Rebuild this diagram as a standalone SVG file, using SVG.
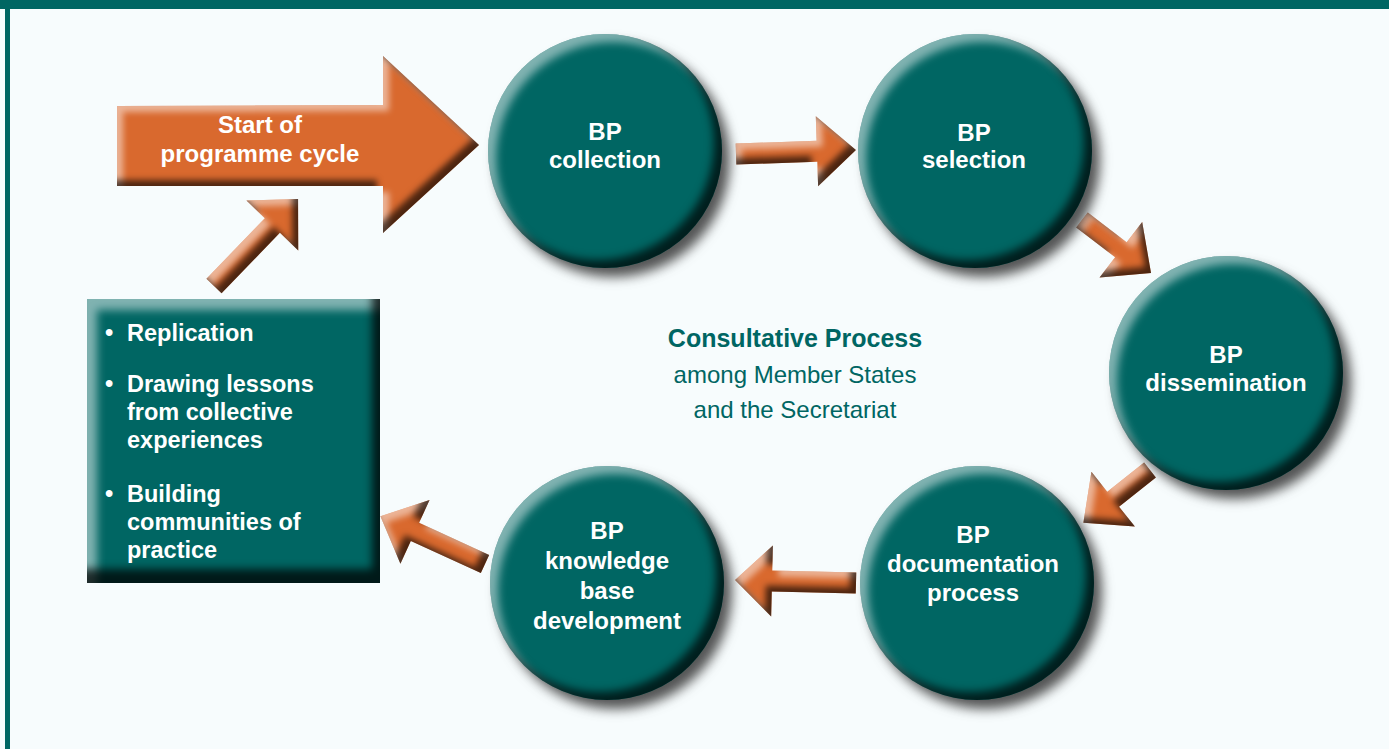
<svg xmlns="http://www.w3.org/2000/svg" width="1389" height="749" viewBox="0 0 1389 749">
<style>
.bg{fill:#f7fcfd}
.frame{fill:#006663}
.disc{fill:#006663}
.arrow{fill:#d9692e}
.lbl{font-family:"Liberation Sans",Arial,sans-serif;font-weight:bold;font-size:24px;fill:#ffffff;text-anchor:middle}
.lst{font-family:"Liberation Sans",Arial,sans-serif;font-weight:bold;font-size:23.5px;fill:#ffffff}
.ctitle{font-family:"Liberation Sans",Arial,sans-serif;font-weight:bold;font-size:25px;fill:#006663;text-anchor:middle}
.csub{font-family:"Liberation Sans",Arial,sans-serif;font-size:24px;fill:#006663;text-anchor:middle}
</style>
<defs>
<filter id="bevel" x="-25%" y="-25%" width="150%" height="150%" color-interpolation-filters="sRGB">
 <feGaussianBlur in="SourceAlpha" stdDeviation="3" result="b"/>
 <feOffset in="b" dx="6" dy="6" result="b1"/>
 <feComposite in="SourceAlpha" in2="b1" operator="out" result="hm"/>
 <feFlood flood-color="#ffffff" flood-opacity="0.5"/>
 <feComposite in2="hm" operator="in" result="hc"/>
 <feOffset in="b" dx="-6" dy="-6" result="b2"/>
 <feComposite in="SourceAlpha" in2="b2" operator="out" result="sm"/>
 <feFlood flood-color="#000000" flood-opacity="0.65"/>
 <feComposite in2="sm" operator="in" result="sc"/>
 <feMerge><feMergeNode in="SourceGraphic"/><feMergeNode in="hc"/><feMergeNode in="sc"/></feMerge>
</filter>
<filter id="bevelBox" x="-10%" y="-10%" width="120%" height="120%" color-interpolation-filters="sRGB">
 <feGaussianBlur in="SourceAlpha" stdDeviation="4" result="b"/>
 <feOffset in="b" dx="10" dy="11" result="b1"/>
 <feComposite in="SourceAlpha" in2="b1" operator="out" result="hm"/>
 <feFlood flood-color="#ffffff" flood-opacity="0.5"/>
 <feComposite in2="hm" operator="in" result="hc"/>
 <feOffset in="b" dx="-8" dy="-14" result="b2"/>
 <feComposite in="SourceAlpha" in2="b2" operator="out" result="sm"/>
 <feFlood flood-color="#000000" flood-opacity="0.75"/>
 <feComposite in2="sm" operator="in" result="sc"/>
 <feMerge><feMergeNode in="SourceGraphic"/><feMergeNode in="hc"/><feMergeNode in="sc"/></feMerge>
</filter>
<filter id="disc" x="-20%" y="-20%" width="145%" height="145%" color-interpolation-filters="sRGB">
 <feGaussianBlur in="SourceAlpha" stdDeviation="6" result="ds"/>
 <feOffset in="ds" dx="8" dy="9" result="dso"/>
 <feFlood flood-color="#2a2a2a" flood-opacity="0.8"/>
 <feComposite in2="dso" operator="in" result="shadow"/>
 <feGaussianBlur in="SourceAlpha" stdDeviation="4" result="b"/>
 <feOffset in="b" dx="8" dy="8" result="b1"/>
 <feComposite in="SourceAlpha" in2="b1" operator="out" result="hm"/>
 <feFlood flood-color="#ffffff" flood-opacity="0.5"/>
 <feComposite in2="hm" operator="in" result="hc"/>
 <feOffset in="b" dx="-8" dy="-8" result="b2"/>
 <feComposite in="SourceAlpha" in2="b2" operator="out" result="sm"/>
 <feFlood flood-color="#000000" flood-opacity="0.7"/>
 <feComposite in2="sm" operator="in" result="sc"/>
 <feMerge><feMergeNode in="shadow"/><feMergeNode in="SourceGraphic"/><feMergeNode in="hc"/><feMergeNode in="sc"/></feMerge>
</filter>
</defs>

<rect class="bg" x="0" y="0" width="1389" height="749"/>
<rect class="frame" x="0" y="0" width="1389" height="9"/>
<rect class="frame" x="5" y="0" width="5" height="749"/>

<g id="start">
 <g filter="url(#bevel)"><polygon class="arrow" points="117,106 383,105 383,56 479,145 383,233 383,186 117,186"/></g>
 <text class="lbl" x="260" y="133">Start of</text>
 <text class="lbl" x="260" y="162">programme cycle</text>
</g>

<g id="connectors">
 <g filter="url(#bevel)"><polygon class="arrow" transform="translate(214,286) rotate(-46)" points="0,-10.5 84,-10.5 84,-36 121,0 84,36 84,10.5 0,10.5"/></g>
 <g filter="url(#bevel)"><polygon class="arrow" transform="translate(736,154) rotate(-1.9)" points="0,-10.5 81,-10.5 81,-35 120,0 81,35 81,10.5 0,10.5"/></g>
 <g filter="url(#bevel)"><polygon class="arrow" transform="translate(1082,220) rotate(37.5)" points="0,-9.5 49,-9.5 49,-35 87,0 49,35 49,9.5 0,9.5"/></g>
 <g filter="url(#bevel)"><polygon class="arrow" transform="translate(1150,470) rotate(141.6)" points="0,-9.5 47,-9.5 47,-35 85,0 47,35 47,9.5 0,9.5"/></g>
 <g filter="url(#bevel)"><polygon class="arrow" transform="translate(856,583) rotate(181.4)" points="0,-10.5 84,-10.5 84,-35.5 121,0 84,35.5 84,10.5 0,10.5"/></g>
 <g filter="url(#bevel)"><polygon class="arrow" transform="translate(485,564) rotate(204.6)" points="0,-10 77,-10 77,-35 115,0 77,35 77,10 0,10"/></g>
</g>

<g id="node-collection">
 <circle class="disc" cx="605" cy="151" r="117" filter="url(#disc)"/>
 <text class="lbl" x="605" y="140">BP</text>
 <text class="lbl" x="605" y="168">collection</text>
</g>
<g id="node-selection">
 <circle class="disc" cx="975" cy="151" r="117" filter="url(#disc)"/>
 <text class="lbl" x="974" y="141">BP</text>
 <text class="lbl" x="974" y="168">selection</text>
</g>
<g id="node-dissemination">
 <circle class="disc" cx="1226" cy="373" r="117" filter="url(#disc)"/>
 <text class="lbl" x="1226" y="363">BP</text>
 <text class="lbl" x="1226" y="391">dissemination</text>
</g>
<g id="node-documentation">
 <circle class="disc" cx="977" cy="583" r="117" filter="url(#disc)"/>
 <text class="lbl" x="973" y="543">BP</text>
 <text class="lbl" x="973" y="572">documentation</text>
 <text class="lbl" x="973" y="601">process</text>
</g>
<g id="node-knowledge">
 <circle class="disc" cx="607" cy="583" r="117" filter="url(#disc)"/>
 <text class="lbl" x="607" y="539">BP</text>
 <text class="lbl" x="607" y="569">knowledge</text>
 <text class="lbl" x="607" y="599">base</text>
 <text class="lbl" x="607" y="629">development</text>
</g>

<g id="node-outcomes">
 <rect class="disc" x="87" y="299" width="293" height="284" filter="url(#bevelBox)"/>
 <text class="lst" x="105" y="341">•</text><text class="lst" x="127" y="341">Replication</text>
 <text class="lst" x="105" y="392">•</text><text class="lst" x="127" y="392">Drawing lessons</text>
 <text class="lst" x="127" y="420">from collective</text>
 <text class="lst" x="127" y="448">experiences</text>
 <text class="lst" x="105" y="502">•</text><text class="lst" x="127" y="502">Building</text>
 <text class="lst" x="127" y="530">communities of</text>
 <text class="lst" x="127" y="558">practice</text>
</g>

<g id="center-label">
 <text class="ctitle" x="795" y="347">Consultative Process</text>
 <text class="csub" x="795" y="383">among Member States</text>
 <text class="csub" x="795" y="418">and the Secretariat</text>
</g>
</svg>
